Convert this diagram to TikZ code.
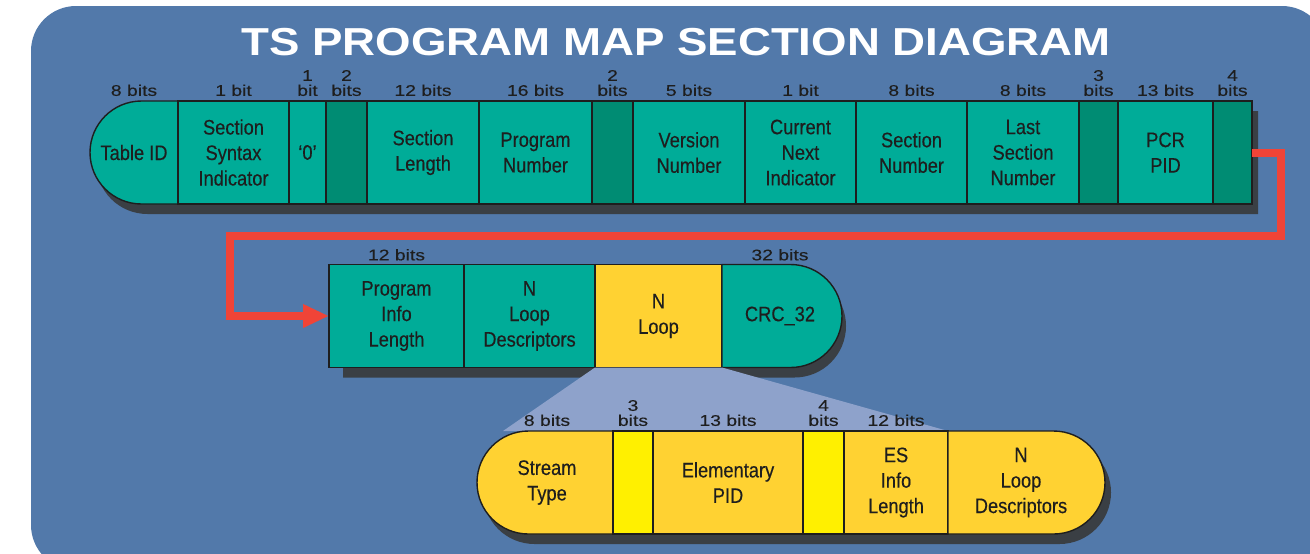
\documentclass[tikz,border=0pt]{standalone}
\usepackage{fontspec}
\usetikzlibrary{positioning,arrows.meta}

\setmainfont{Liberation Sans}
\newfontfamily\titlefont[FakeStretch=1.17]{Liberation Sans}
\newfontfamily\cellfont[FakeStretch=0.87,FakeBold=0.3]{Liberation Sans}
\newfontfamily\bitfont[FakeStretch=1.25,FakeBold=0.2]{Liberation Sans}

\definecolor{bgblue}{RGB}{82,121,170}
\definecolor{cellteal}{RGB}{0,172,152}
\definecolor{resteal}{RGB}{0,140,115}
\definecolor{cellgold}{RGB}{255,210,50}
\definecolor{resyellow}{RGB}{255,240,0}
\definecolor{shadowgrey}{RGB}{58,63,68}
\definecolor{linkred}{RGB}{240,68,55}
\definecolor{zoomblue}{RGB}{142,162,203}
\definecolor{inkgrey}{RGB}{30,30,30}

\def\pxu{0.5pt}

\tikzset{
  field/.style={draw=inkgrey, line width=0.7pt, fill=cellteal,
    minimum height={103*\pxu}, inner sep=0pt, outer sep=0pt,
    align=center, text=inkgrey,
    font=\cellfont\fontsize{10.5}{12.75}\selectfont},
  fieldtext/.style={field, draw=none, fill=none},
  endcap/.style={draw=inkgrey, line width=0.7pt, fill=#1},
  shadow/.style={fill=shadowgrey},
  bitlab/.style={inner sep=0pt, outer sep=0pt, align=center, text=inkgrey,
    font=\bitfont\fontsize{7.75}{7.5}\selectfont},
  link/.style={draw=linkred, line width=4pt,
    -{Triangle[length=13pt,width=11pt]}},
}

\begin{document}
\begin{tikzpicture}[x=0.5pt, y=-0.5pt]

\useasboundingbox (0,0) rectangle (1310,553);
\clip (0,0) rectangle (1310,553);
\fill[bgblue, rounded corners=22.5pt] (31,6) rectangle (1327,570);

\node[font=\titlefont\bfseries\fontsize{19.5}{22}\selectfont, text=white, anchor=base]
  (title) at (676,55) {TS PROGRAM MAP SECTION DIAGRAM};

% table header row
\fill[shadow] (1258,111) -- (147.5,111) arc[start angle=90, end angle=270, radius=25.75pt]
  -- (1258,214) -- cycle;
\filldraw[endcap=cellteal] (178,101) -- (141.5,101) arc[start angle=90, end angle=270, radius=25.75pt]
  -- (178,204) -- cycle;
\node[fieldtext, minimum width={88*\pxu}] (tid) at (134,152.5) {Table ID};
\foreach \l/\r/\name/\col/\txt in {
  178/289/ssi/cellteal/{Section\\Syntax\\Indicator},
  289/326/zero/cellteal/{‘0’},
  326/367/resa/resteal/{},
  367/479/slen/cellteal/{Section\\Length},
  479/592/pnum/cellteal/{Program\\Number},
  592/633/resb/resteal/{},
  633/745/ver/cellteal/{Version\\Number},
  745/856/cni/cellteal/{Current\\Next\\Indicator},
  856/967/snum/cellteal/{Section\\Number},
  967/1079/lsn/cellteal/{Last\\Section\\Number},
  1079/1118/resc/resteal/{},
  1118/1213/pcr/cellteal/{PCR\\PID},
  1213/1252/resd/resteal/{}}
{
  \node[field, fill=\col, minimum width={(\r-\l)*\pxu}] (\name) at ({(\l+\r)/2},152.5) {\txt};
}

\foreach \name/\txt in {tid/8 bits, ssi/1 bit, zero/{1\\bit}, resa/{2\\bits},
  slen/12 bits, pnum/16 bits, resb/{2\\bits}, ver/5 bits, cni/1 bit,
  snum/8 bits, lsn/8 bits, resc/{3\\bits}, pcr/13 bits, resd/{4\\bits}}
{
  \node[bitlab, above=2.5pt of \name] (b\name) {\txt};
}

% program info row
\fill[shadow] (343,274.5) -- (794.5,274.5) arc[start angle=90, end angle=-90, radius=25.75pt]
  -- (343,377.5) -- cycle;
\node[field, minimum width={135*\pxu}] (pil) at (396.5,316) {Program\\Info\\Length};
\node[field, minimum width={131*\pxu}] (nld) at (529.5,316) {N\\Loop\\Descriptors};
\node[field, fill=cellgold, minimum width={127*\pxu}] (nloop) at (658.5,316) {N\\Loop};
\filldraw[endcap=cellteal] (722,264.5) -- (790.5,264.5) arc[start angle=90, end angle=-90, radius=25.75pt]
  -- (722,367.5) -- cycle;
\node[fieldtext, minimum width={120*\pxu}] (crc) at (780,316) {CRC\_32};
\node[bitlab, above=2pt of pil] (bpil) {12 bits};
\node[bitlab, above=2pt of crc] (bcrc) {32 bits};

\coordinate (bendl) at (230,236);
\draw[link] (resd.east) -- ++(29,0) |- (bendl) |- (pil.west);

% stream loop row
\coordinate (zl) at (503,431);
\fill[zoomblue] (nloop.south west) -- (nloop.south east) -- (948,431) -- (zl) -- cycle;

\fill[shadow] (534.5,441) -- (1059.5,441) arc[start angle=90, end angle=-90, radius=25.75pt]
  -- (534.5,544) arc[start angle=270, end angle=90, radius=25.75pt] -- cycle;
\filldraw[endcap=cellgold] (613,431) -- (528.5,431) arc[start angle=90, end angle=270, radius=25.75pt]
  -- (613,534) -- cycle;
\node[fieldtext, minimum width={136*\pxu}] (st) at (547,482.5) {Stream\\Type};
\foreach \l/\r/\name/\col/\txt in {
  613/653/resf/resyellow/{},
  653/803/epid/cellgold/{Elementary\\PID},
  803/844/resg/resyellow/{},
  844/948/esl/cellgold/{ES\\Info\\Length}}
{
  \node[field, fill=\col, minimum width={(\r-\l)*\pxu}] (\name) at ({(\l+\r)/2},482.5) {\txt};
}
\filldraw[endcap=cellgold] (948,431) -- (1053.5,431) arc[start angle=90, end angle=-90, radius=25.75pt]
  -- (948,534) -- cycle;
\node[fieldtext, minimum width={157*\pxu}] (nld3) at (1021,482.5) {N\\Loop\\Descriptors};

\foreach \name/\txt in {st/8 bits, resf/{3\\bits}, epid/13 bits, resg/{4\\bits}, esl/12 bits}
{
  \node[bitlab, above=2.5pt of \name] (b\name) {\txt};
}

\end{tikzpicture}
\end{document}
